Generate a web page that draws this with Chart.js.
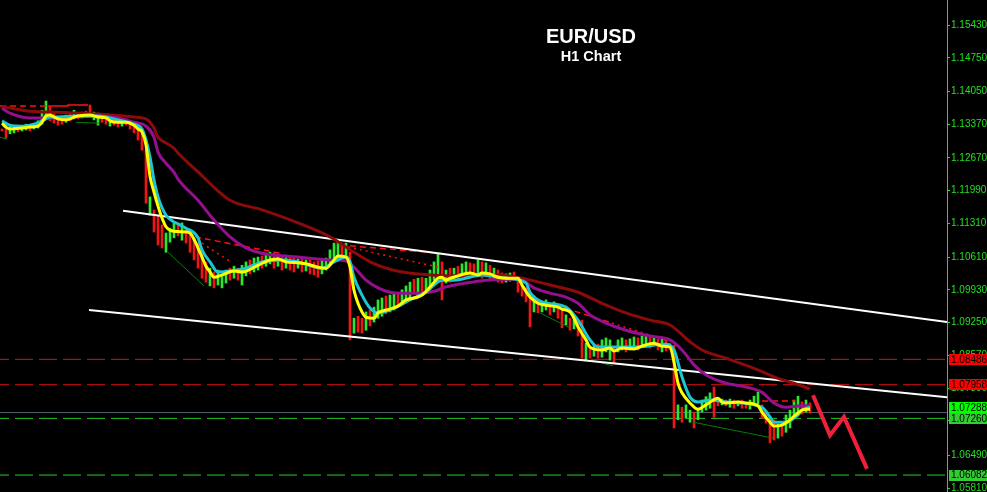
<!DOCTYPE html>
<html>
<head>
<meta charset="utf-8">
<title>EUR/USD H1 Chart</title>
<script src="https://cdn.jsdelivr.net/npm/chart.js@4.4.1/dist/chart.umd.min.js"></script>
<style>
html, body { margin: 0; padding: 0; background: #000; }
#wrap { position: relative; width: 987px; height: 492px; overflow: hidden; }
#chart { position: absolute; left: 0; top: 0; }
.ttl { position: absolute; left: 491px; width: 200px; text-align: center; color: #fff; font-family: "Liberation Sans", Arial, sans-serif; font-weight: bold; }
#t1 { top: 26px; font-size: 20px; line-height: 20px; }
#t2 { top: 49px; font-size: 14.5px; line-height: 14px; }
</style>
</head>
<body>
<div id="wrap">
    <canvas id="chart" width="987" height="492"></canvas>
    <div class="ttl" id="t1">EUR/USD</div>
    <div class="ttl" id="t2">H1 Chart</div>
</div>
<script>
// ---- data ---------------------------------------------------------------------------------
const yTicks = [1.15430, 1.14750, 1.14050, 1.13370, 1.12670, 1.11990, 1.11310, 1.10610,
                1.09930, 1.09250, 1.08570, 1.07890, 1.07210, 1.06490, 1.05810];

// H1 bars, one per hour (high / low / direction u=up d=down)
const barHigh = [
    1.1327, 1.1339, 1.1333, 1.1331, 1.1335, 1.1333, 1.1337, 1.1335, 1.1339, 1.1344,
    1.1366, 1.1385, 1.1373, 1.1362, 1.1352, 1.1350, 1.1356, 1.1358, 1.1366, 1.1360,
    1.1362, 1.1364, 1.1377, 1.1362, 1.1360, 1.1356, 1.1352, 1.1350, 1.1348, 1.1350,
    1.1346, 1.1348, 1.1344, 1.1337, 1.1333, 1.1325, 1.1283, 1.1186, 1.1159, 1.1148,
    1.1128, 1.1111, 1.1121, 1.1134, 1.1130, 1.1132, 1.1121, 1.1111, 1.1101, 1.1090,
    1.1076, 1.1051, 1.1038, 1.1030, 1.1034, 1.1024, 1.1034, 1.1038, 1.1042, 1.1038,
    1.1044, 1.1051, 1.1055, 1.1059, 1.1061, 1.1063, 1.1067, 1.1071, 1.1069, 1.1067,
    1.1063, 1.1065, 1.1061, 1.1059, 1.1057, 1.1059, 1.1055, 1.1055, 1.1051, 1.1053,
    1.1055, 1.1059, 1.1076, 1.1090, 1.1092, 1.1086, 1.1090, 1.1071, 1.0934, 1.0938,
    1.0934, 1.0947, 1.0951, 1.0957, 1.0972, 1.0976, 1.0980, 1.0982, 1.0986, 1.0984,
    1.0993, 1.1001, 1.1009, 1.1015, 1.1017, 1.1019, 1.1017, 1.1034, 1.1051, 1.1069,
    1.1051, 1.1034, 1.1038, 1.1038, 1.1042, 1.1047, 1.1051, 1.1049, 1.1047, 1.1055,
    1.1051, 1.1049, 1.1044, 1.1038, 1.1034, 1.1028, 1.1026, 1.1028, 1.1030, 1.1017,
    1.1007, 1.0997, 1.0986, 1.0980, 1.0972, 1.0968, 1.0972, 1.0966, 1.0968, 1.0959,
    1.0951, 1.0941, 1.0934, 1.0930, 1.0926, 1.0930, 1.0882, 1.0876, 1.0878, 1.0880,
    1.0889, 1.0893, 1.0889, 1.0872, 1.0889, 1.0893, 1.0889, 1.0891, 1.0895, 1.0893,
    1.0897, 1.0899, 1.0897, 1.0895, 1.0891, 1.0893, 1.0889, 1.0882, 1.0878, 1.0754,
    1.0749, 1.0754, 1.0743, 1.0739, 1.0747, 1.0764, 1.0771, 1.0779, 1.0791, 1.0768,
    1.0766, 1.0764, 1.0766, 1.0764, 1.0762, 1.0764, 1.0760, 1.0764, 1.0772, 1.0781,
    1.0754, 1.0743, 1.0729, 1.0723, 1.0714, 1.0718, 1.0733, 1.0743, 1.0764, 1.0772,
    1.0760, 1.0764, 1.0758
];
const barLow = [
    1.1323, 1.1308, 1.1317, 1.1319, 1.1321, 1.1323, 1.1325, 1.1323, 1.1327, 1.1329,
    1.1337, 1.1350, 1.1344, 1.1339, 1.1335, 1.1337, 1.1341, 1.1344, 1.1348, 1.1348,
    1.1350, 1.1352, 1.1354, 1.1346, 1.1335, 1.1341, 1.1337, 1.1333, 1.1335, 1.1331,
    1.1333, 1.1335, 1.1327, 1.1319, 1.1304, 1.1283, 1.1173, 1.1148, 1.1113, 1.1086,
    1.1080, 1.1071, 1.1092, 1.1101, 1.1105, 1.1096, 1.1090, 1.1071, 1.1055, 1.1038,
    1.1017, 1.1009, 1.1001, 1.0997, 1.1003, 1.0997, 1.1007, 1.1013, 1.1017, 1.1013,
    1.1003, 1.1022, 1.1026, 1.1030, 1.1034, 1.1038, 1.1042, 1.1047, 1.1038, 1.1042,
    1.1034, 1.1038, 1.1034, 1.1030, 1.1038, 1.1030, 1.1032, 1.1026, 1.1024, 1.1019,
    1.1026, 1.1034, 1.1044, 1.1051, 1.1059, 1.1061, 1.1059, 1.0889, 1.0903, 1.0905,
    1.0903, 1.0909, 1.0918, 1.0926, 1.0934, 1.0938, 1.0943, 1.0947, 1.0951, 1.0959,
    1.0963, 1.0972, 1.0976, 1.0984, 1.0978, 1.0988, 1.0993, 1.0997, 1.1013, 1.1017,
    1.0972, 1.1007, 1.1009, 1.1013, 1.1015, 1.1022, 1.1024, 1.1017, 1.1022, 1.1026,
    1.1017, 1.1022, 1.1013, 1.1013, 1.1009, 1.1007, 1.1009, 1.1011, 1.1013, 1.0988,
    1.0980, 1.0968, 1.0916, 1.0947, 1.0945, 1.0947, 1.0951, 1.0941, 1.0947, 1.0934,
    1.0914, 1.0920, 1.0909, 1.0912, 1.0897, 1.0851, 1.0847, 1.0851, 1.0855, 1.0851,
    1.0853, 1.0864, 1.0847, 1.0841, 1.0864, 1.0868, 1.0864, 1.0868, 1.0870, 1.0868,
    1.0874, 1.0876, 1.0872, 1.0878, 1.0868, 1.0864, 1.0866, 1.0868, 1.0706, 1.0723,
    1.0718, 1.0726, 1.0718, 1.0706, 1.0723, 1.0739, 1.0743, 1.0747, 1.0728, 1.0752,
    1.0754, 1.0752, 1.0749, 1.0747, 1.0752, 1.0747, 1.0747, 1.0745, 1.0754, 1.0756,
    1.0726, 1.0716, 1.0675, 1.0681, 1.0685, 1.0689, 1.0697, 1.0706, 1.0726, 1.0733,
    1.0735, 1.0739, 1.0737
];
const barDir = 'dduuduuduu' + 'uuddddudud' + 'udduuddudd' + 'uddddddudd' + 'duuududddd' +
               'dduduuudud' + 'uuduuduudu' + 'duddududdd' + 'uuuuududud' + 'duduuuduud' +
               'uuududuuuu' + 'dududuuddu' + 'dududduudd' + 'ddduduudud' + 'dududdudud' +
               'uuuduuduud' + 'uudududddu' + 'duuduuuudd' + 'udududduuu' + 'dddduduuuu' + 'dud';

// moving averages, [bar, price]
const maFast = [
    [0,1.1339],[1,1.1331],[2,1.1327],[5,1.1329],[7,1.1331],[9,1.1333],[10,1.1341],[11,1.1354],
    [12,1.1356],[13,1.1352],[14,1.1348],[16,1.1346],[17,1.1348],[18,1.1352],[19,1.1354],[22,1.1356],
    [24,1.1352],[26,1.1350],[27,1.1344],[29,1.1341],[31,1.1341],[33,1.1335],[34,1.1327],[35,1.1321],
    [36,1.1294],[37,1.1229],[38,1.1196],[39,1.1167],[40,1.1142],[41,1.1124],[42,1.1117],[44,1.1114],
    [46,1.1113],[47,1.1111],[48,1.1098],[49,1.1080],[50,1.1061],[51,1.1042],[52,1.1030],[53,1.1019],
    [55,1.1024],[58,1.1032],[60,1.1030],[64,1.1044],[67,1.1055],[69,1.1057],[71,1.1051],[74,1.1049],
    [76,1.1047],[79,1.1040],[81,1.1038],[83,1.1055],[84,1.1063],[86,1.1061],[87,1.1040],[88,1.0992],
    [89,1.0965],[90,1.0947],[91,1.0936],[93,1.0934],[94,1.0945],[96,1.0951],[99,1.0959],[101,1.0972],
    [104,1.0978],[105,1.0982],[107,1.0999],[109,1.1017],[110,1.1019],[111,1.1013],[112,1.1017],[114,1.1022],
    [117,1.1028],[119,1.1024],[120,1.1028],[122,1.1026],[124,1.1019],[127,1.1017],[129,1.1017],[130,1.1003],
    [132,1.0978],[134,1.0965],[136,1.0961],[139,1.0957],[140,1.0953],[142,1.0947],[143,1.0934],[144,1.0916],
    [146,1.0889],[147,1.0874],[150,1.0868],[152,1.0872],[153,1.0866],[155,1.0872],[158,1.0870],[160,1.0876],
    [163,1.0882],[165,1.0876],[167,1.0874],[168,1.0843],[169,1.0799],[170,1.0779],[172,1.0758],[174,1.0745],
    [176,1.0754],[179,1.0768],[180,1.0760],[181,1.0758],[184,1.0760],[186,1.0758],[189,1.0752],[190,1.0739],
    [192,1.0718],[193,1.0710],[195,1.0712],[197,1.0723],[199,1.0737],[200,1.0743],[202,1.0745]
];
const maMid = [
    [0,1.1344],[2,1.1335],[5,1.1333],[8,1.1337],[11,1.1348],[12,1.1352],[14,1.1352],[19,1.1354],
    [24,1.1354],[29,1.1346],[33,1.1337],[35,1.1327],[36,1.1304],[37,1.1269],[38,1.1221],[39,1.1186],
    [41,1.1148],[43,1.1134],[44,1.1130],[46,1.1121],[49,1.1101],[50,1.1076],[52,1.1051],[54,1.1030],
    [57,1.1032],[61,1.1038],[65,1.1051],[70,1.1055],[74,1.1051],[80,1.1038],[83,1.1051],[86,1.1061],
    [87,1.1051],[88,1.1019],[90,1.0982],[92,1.0955],[94,1.0945],[98,1.0955],[102,1.0972],[106,1.0988],
    [110,1.1013],[113,1.1013],[120,1.1024],[126,1.1017],[131,1.1007],[132,1.0988],[135,1.0968],[141,1.0957],
    [144,1.0930],[147,1.0889],[149,1.0874],[158,1.0874],[166,1.0880],[168,1.0868],[170,1.0812],[172,1.0770],
    [174,1.0760],[177,1.0764],[181,1.0760],[190,1.0749],[192,1.0729],[193,1.0718],[196,1.0718],[199,1.0733],
    [200,1.0743],[202,1.0749]
];
const maSlow = [
    [0,1.1370],[2,1.1360],[7,1.1350],[12,1.1350],[17,1.1352],[24,1.1354],[29,1.1350],[33,1.1341],
    [36,1.1333],[38,1.1310],[39,1.1279],[41,1.1256],[43,1.1237],[44,1.1223],[49,1.1179],[53,1.1138],
    [57,1.1103],[61,1.1080],[65,1.1069],[74,1.1061],[82,1.1055],[86,1.1053],[88,1.1040],[91,1.1013],
    [94,1.0997],[97,1.0988],[100,1.0986],[104,1.0986],[108,1.0990],[111,1.0999],[116,1.1007],[121,1.1013],
    [126,1.1015],[130,1.1013],[133,1.0997],[137,1.0986],[141,1.0978],[144,1.0965],[147,1.0941],[151,1.0924],
    [156,1.0909],[162,1.0897],[167,1.0889],[170,1.0868],[173,1.0837],[176,1.0816],[181,1.0799],[186,1.0791],
    [190,1.0780],[193,1.0758],[196,1.0749],[200,1.0752],[202,1.0752]
];
const maLong = [
    [0,1.1374],[7,1.1364],[14,1.1362],[24,1.1358],[33,1.1352],[36,1.1348],[38,1.1329],[39,1.1310],
    [41,1.1298],[43,1.1287],[44,1.1277],[49,1.1238],[53,1.1206],[57,1.1179],[65,1.1159],[74,1.1132],
    [82,1.1103],[88,1.1071],[92,1.1051],[96,1.1038],[100,1.1030],[104,1.1026],[113,1.1022],[121,1.1022],
    [124,1.1024],[130,1.1017],[137,1.1003],[144,1.0988],[150,1.0965],[156,1.0945],[162,1.0930],[167,1.0920],
    [172,1.0885],[175,1.0868],[181,1.0851],[188,1.0830],[194,1.0809],[198,1.0799],[202,1.0787]
];

// channel lines and forecast
const channelTop = [[30.25, 1.1157], [236.25, 1.0926]];
const channelBottom = [[21.75, 1.0951], [236.25, 1.0770]];
const forecast = [[202.75, 1.0774], [207, 1.0691], [210.5, 1.0729], [216.25, 1.0621]];

// fractal levels (red) and zigzag legs (dark green)
const fractalDashed = [
    [[-0.5, 1.1375], [11, 1.1375]],
    [[48.25, 1.1103], [69.5, 1.1069]],
    [[84.5, 1.1086], [109.5, 1.1069]],
    [[140.75, 1.0955], [152.5, 1.0924]],
    [[190, 1.0762], [198.25, 1.0762]]
];
const fractalDotted = [
    [[50, 1.1090], [57.5, 1.1049]],
    [[86.5, 1.1082], [111.25, 1.1036]],
    [[152.5, 1.0924], [166.5, 1.0887]]
];
const fractalSolid = [[11.5, 1.1375], [16.5, 1.1375], [16.5, 1.1377], [21.5, 1.1377]];
const zigzag = [
    [[-0.5, 1.1310], [1.25, 1.1306]],
    [[18.5, 1.1341], [24.5, 1.1339]],
    [[41.5, 1.1071], [50.5, 1.1001]],
    [[134.5, 1.0945], [142, 1.0914]],
    [[147, 1.0847], [152.75, 1.0835]],
    [[172.75, 1.0718], [192.75, 1.0685]]
];

// horizontal levels
const levelRed = [1.08486, 1.07958];
const levelGreen = [1.07260, 1.06082];
const levelBid = 1.07380;

// price boxes on the axis
const boxPrices = [1.08486, 1.07958, 1.07288, 1.07260, 1.06082];
const boxColors = ['#ff0000', '#ff0000', '#00ff00', '#32cd32', '#32cd32'];

// ---- helpers --------------------------------------------------------------------------------
const X_MIN = -0.5;
const X_MAX = 236.25;
const AXIS_GREEN = '#20e020';
const AXIS_FONT = '"Liberation Sans", Arial, sans-serif';

function pts(list)
{
    return list.map(p => ({x: p[0], y: p[1]}));
}

function lineSet(list, color, width, order, extra)
{
    return Object.assign({
        type: 'line',
        data: pts(list),
        borderColor: color,
        borderWidth: width,
        pointRadius: 0,
        fill: false,
        tension: 0,
        order: order
    }, extra || {});
}

function levelSet(price, color, dash, order)
{
    return lineSet([[X_MIN, price], [X_MAX, price]], color, 1, order,
        dash ? {borderDash: [18, 6], borderDashOffset: 9} : {});
}
// -------------------------------------------------------------------------------------------
const priceBoxPlugin = {
    id: 'priceBoxes',
    afterDraw(chart) {
        const ctx = chart.ctx;
        const y = chart.scales.y;
        const left = chart.chartArea.right + 2;
        const h = 11;
        const items = boxPrices.map((p, i) => ({text: p.toFixed(5), color: boxColors[i], pos: y.getPixelForValue(p)}));
        // push overlapping labels upward, like the terminal does
        for (let i = items.length - 2; i >= 0; i--) {
            if (items[i + 1].pos - items[i].pos < h) {
                items[i].pos = items[i + 1].pos - h;
            }
        }
        ctx.save();
        ctx.font = '10px ' + AXIS_FONT;
        ctx.textBaseline = 'middle';
        items.forEach(it => {
            ctx.fillStyle = it.color;
            ctx.fillRect(left, Math.round(it.pos - h / 2), chart.width - left, h);
            ctx.fillStyle = '#000';
            ctx.fillText(it.text, left + 2, it.pos + 0.5);
        });
        ctx.restore();
    }
};
// -------------------------------------------------------------------------------------------
function drawChart()
{
    const datasets = [];

    levelRed.forEach(p => datasets.push(levelSet(p, '#e01010', true, 40)));
    levelGreen.forEach(p => datasets.push(levelSet(p, '#22cc22', true, 40)));
    datasets.push(levelSet(levelBid, '#566070', false, 40));

    datasets.push({
        type: 'bar',
        data: barHigh.map((hi, i) => ({x: i, y: [barLow[i], hi]})),
        backgroundColor: barDir.split('').map(d => d === 'u' ? '#2ee62e' : '#f01414'),
        barThickness: 2,
        grouped: false,
        order: 30
    });

    zigzag.forEach(seg => datasets.push(lineSet(seg, '#0a7a0a', 1, 25)));
    fractalDashed.forEach(seg => datasets.push(lineSet(seg, '#ff1010', 1.5, 24, {borderDash: [6, 4]})));
    fractalDotted.forEach(seg => datasets.push(lineSet(seg, '#ff1010', 1.5, 24, {borderDash: [2, 4]})));
    datasets.push(lineSet(fractalSolid, '#ff1010', 1.5, 24));

    datasets.push(lineSet(channelTop, '#ffffff', 2, 20));
    datasets.push(lineSet(channelBottom, '#ffffff', 2, 20));

    const smooth = {cubicInterpolationMode: 'monotone'};
    datasets.push(lineSet(maLong, '#8b0a0a', 3, 12, smooth));
    datasets.push(lineSet(maSlow, '#94108f', 3, 11, smooth));
    datasets.push(lineSet(maMid, '#1cc6d6', 3, 10, smooth));
    datasets.push(lineSet(maFast, '#ffff00', 3, 9, smooth));

    datasets.push(lineSet(forecast, '#f0203a', 4, 1));

    new Chart(document.getElementById('chart'), {
        type: 'line',
        data: { datasets: datasets },
        options: {
            responsive: false,
            animation: false,
            layout: { padding: 0 },
            plugins: {
                legend: { display: false },
                tooltip: { enabled: false }
            },
            scales: {
                x: {
                    type: 'linear',
                    min: X_MIN,
                    max: X_MAX,
                    offset: false,
                    display: false
                },
                y: {
                    position: 'right',
                    min: 1.0573,
                    max: 1.1595,
                    afterBuildTicks: (scale) => {
                        scale.ticks = yTicks.map(v => ({value: v}));
                    },
                    afterFit: (scale) => {
                        scale.width = 40;
                        scale.paddingTop = 0;
                        scale.paddingBottom = 0;
                    },
                    grid: {
                        drawOnChartArea: false,
                        drawTicks: true,
                        tickLength: 3,
                        color: AXIS_GREEN
                    },
                    border: { display: true, color: AXIS_GREEN, width: 1 },
                    ticks: {
                        color: AXIS_GREEN,
                        padding: 1,
                        autoSkip: false,
                        font: { family: AXIS_FONT, size: 10 },
                        callback: (v) => Number(v).toFixed(5)
                    }
                }
            }
        },
        plugins: [priceBoxPlugin]
    });
}

drawChart();
</script>
</body>
</html>
